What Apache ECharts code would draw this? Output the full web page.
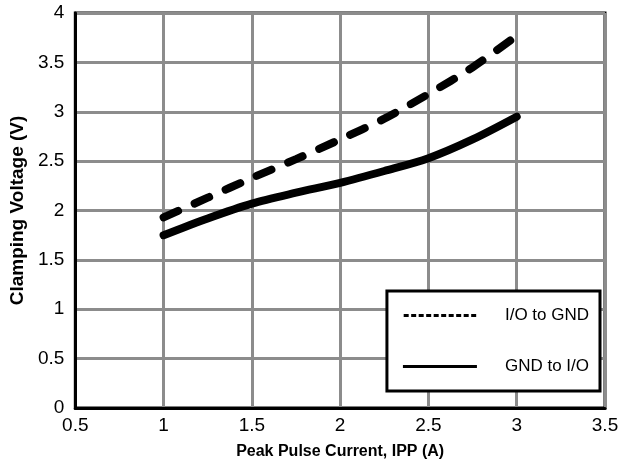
<!DOCTYPE html>
<html>
<head>
<meta charset="utf-8">
<script src="https://cdn.jsdelivr.net/npm/echarts@6/dist/echarts.min.js"></script>
<style>
  html, body { margin: 0; padding: 0; background: #fff; }
  #chart { width: 637px; height: 469px; }
</style>
</head>
<body>
<div id="chart"></div>
<script>
  // peak pulse current (A)
  var current = [1, 1.25, 1.5, 1.75, 2, 2.25, 2.5, 2.75, 3]
  // clamping voltage (V)
  var ioToGnd = [1.93, 2.13, 2.33, 2.52, 2.72, 2.93, 3.18, 3.45, 3.77]
  var gndToIo = [1.75, 1.92, 2.07, 2.18, 2.28, 2.40, 2.53, 2.72, 2.95]
  var seriesNames = ['I/O to GND', 'GND to I/O']

  function pairs (xs, ys) {
    var out = []
    for (var i = 0; i < xs.length; i++) {
      out.push([xs[i], ys[i]])
    }
    return out
  }

  // legend sample icons, drawn as filled rects 74 x 3
  function dashIcon () {
    var d = ''
    for (var x = 0; x < 74; x += 7.5) {
      var w = Math.min(5, 74 - x)
      d += 'M' + x + ',0h' + w + 'v3h-' + w + 'z'
    }
    return 'path://' + d
  }
  var solidIcon = 'path://M0,0h74v3h-74z'

  var chart = echarts.init(document.getElementById('chart'))
  var font = 'Liberation Sans, Arial, sans-serif'

  var option = {
    animation: false,
    textStyle: { fontFamily: font },
    grid: {
      left: 75,
      right: 32,
      top: 13,
      bottom: 61,
      show: true,
      borderColor: '#000',
      borderWidth: 3,
    },
    legend: {
      orient: 'vertical',
      right: 37,
      bottom: 78,
      padding: [16, 11, 16, 16],
      itemGap: 34,
      itemWidth: 74,
      itemHeight: 3,
      borderColor: '#000',
      borderWidth: 3,
      backgroundColor: '#fff',
      itemStyle: { color: '#000' },
      textStyle: { color: '#000', fontSize: 17, fontFamily: font, padding: [0, 0, 0, 23] },
      data: [
        { name: seriesNames[0], icon: dashIcon() },
        { name: seriesNames[1], icon: solidIcon },
      ],
    },
    xAxis: {
      type: 'value',
      min: 0.5,
      max: 3.5,
      interval: 0.5,
      name: 'Peak Pulse Current, IPP (A)',
      nameLocation: 'middle',
      nameGap: 36,
      nameTextStyle: { color: '#000', fontSize: 16, fontWeight: 'bold', fontFamily: font },
      axisLine: { lineStyle: { color: '#000', width: 3 } },
      axisTick: { show: false },
      axisLabel: { color: '#000', fontSize: 19, margin: 8, fontFamily: font },
      splitLine: { lineStyle: { color: '#8c8c8c', width: 3 } },
    },
    yAxis: {
      type: 'value',
      min: 0,
      max: 4,
      interval: 0.5,
      name: 'Clamping Voltage (V)',
      nameLocation: 'middle',
      nameGap: 41,
      nameTextStyle: { color: '#000', fontSize: 19, fontWeight: 'bold', fontFamily: font },
      axisLine: { show: true, lineStyle: { color: '#000', width: 3 } },
      axisTick: { show: false },
      axisLabel: { color: '#000', fontSize: 19, margin: 11, fontFamily: font },
      splitLine: { lineStyle: { color: '#8c8c8c', width: 3 } },
    },
    series: [
      {
        name: seriesNames[0],
        type: 'line',
        data: pairs(current, ioToGnd),
        symbol: 'none',
        smooth: 0.3,
        lineStyle: { color: '#000', width: 8, type: [16, 18], cap: 'round' },
        itemStyle: { color: '#000' },
        z: 3,
      },
      {
        name: seriesNames[1],
        type: 'line',
        data: pairs(current, gndToIo),
        symbol: 'none',
        smooth: 0.3,
        lineStyle: { color: '#000', width: 8, cap: 'round' },
        itemStyle: { color: '#000' },
        z: 3,
      },
    ],
  }
  chart.setOption(option)
</script>
</body>
</html>
